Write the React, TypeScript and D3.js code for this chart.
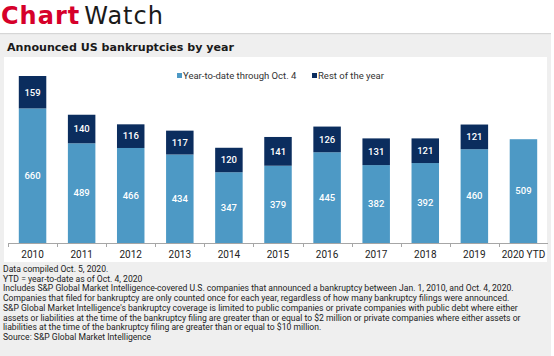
import React from 'react';
import * as d3 from 'd3';

const categories = ['2010', '2011', '2012', '2013', '2014', '2015', '2016', '2017', '2018', '2019', '2020 YTD'];
const ytdValues = [660, 489, 466, 434, 347, 379, 445, 382, 392, 460, 509];
const restValues = [159, 140, 116, 117, 120, 141, 126, 131, 121, 121, 0];
const seriesNames = ['Year-to-date through Oct. 4', 'Rest of the year'];
const footnotes = [
  'Data compiled Oct. 5, 2020.',
  'YTD = year-to-date as of Oct. 4, 2020',
  'Includes S&P Global Market Intelligence-covered U.S. companies that announced a bankruptcy between Jan. 1, 2010, and Oct. 4, 2020.',
  'Companies that filed for bankruptcy are only counted once for each year, regardless of how many bankruptcy filings were announced.',
  "S&P Global Market Intelligence's bankruptcy coverage is limited to public companies or private companies with public debt where either",
  'assets or liabilities at the time of the bankruptcy filing are greater than or equal to $2 million or private companies where either assets or',
  'liabilities at the time of the bankruptcy filing are greater than or equal to $10 million.',
  'Source: S&P Global Market Intelligence',
];

const LIGHT = '#4d99c5';
const DARK = '#0b2d5e';
const RED = '#d6002a';
const FONT = 'Roboto, "Liberation Sans", Arial, sans-serif';
const WIDE = '"DejaVu Sans", Verdana, sans-serif';

export default function App() {
  const W = 554;
  const H = 356;
  const axisY = 243;
  const x = d3.scaleBand<string>().domain(categories).range([8, 548]).padding(0);
  const y = d3.scaleLinear().domain([0, 819]).range([axisY, 76]);
  const bw = x.bandwidth() * 0.56;

  return (
    <svg
      width={W}
      height={H}
      style={{ position: 'absolute', left: 0, top: 0, fontFamily: FONT }}
    >
      <rect x={0} y={0} width={W} height={H} fill="#fff" />
      {/* Header */}
      <text x={1} y={24} fontSize={24} fontFamily={WIDE} letterSpacing={1}>
        <tspan fill={RED} fontWeight={700}>Chart</tspan>
        <tspan fill="#1a1a1a" dx={4}>Watch</tspan>
      </text>
      {/* Grey panel */}
      <rect x={0} y={33} width={551} height={H - 33} fill="#efefef" />
      <rect x={0} y={33} width={551} height={1.2} fill="#d6d6d6" />
      <text x={7} y={51} fontSize={11.1} fontWeight={700} fill="#1a1a1a" fontFamily={WIDE}>
        Announced US bankruptcies by year
      </text>
      {/* White chart area */}
      <rect x={4} y={57} width={543} height={205} fill="#fff" />

      {/* Legend */}
      <g fontSize={9.5} fill="#333">
        <rect x={177} y={73} width={5} height={5} fill={LIGHT} />
        <text x={183} y={79}>{seriesNames[0]}</text>
        <rect x={312} y={73} width={5} height={5} fill={DARK} />
        <text x={318} y={79}>{seriesNames[1]}</text>
      </g>

      {/* Bars */}
      {categories.map((c, i) => {
        const cx = (x(c) as number) + x.bandwidth() / 2;
        const y0 = y(0);
        const y1 = y(ytdValues[i]);
        const y2 = y(ytdValues[i] + restValues[i]);
        return (
          <g key={c}>
            <rect x={cx - bw / 2} y={y1} width={bw} height={y0 - y1} fill={LIGHT} />
            {restValues[i] > 0 && (
              <rect x={cx - bw / 2} y={y2} width={bw} height={y1 - y2} fill={DARK} />
            )}
            <text
              x={cx}
              y={(y0 + y1) / 2 + 3.3}
              textAnchor="middle"
              fontSize={9.5}
              fontWeight={500}
              fill="#fff"
            >
              {ytdValues[i]}
            </text>
            {restValues[i] > 0 && (
              <text
                x={cx}
                y={(y1 + y2) / 2 + 3.3}
                textAnchor="middle"
                fontSize={9.5}
                fontWeight={500}
                fill="#fff"
              >
                {restValues[i]}
              </text>
            )}
            <text x={cx} y={axisY + 14.5} textAnchor="middle" fontSize={10} fill="#222">
              {c}
            </text>
          </g>
        );
      })}

      {/* Axis */}
      <line x1={8} x2={548} y1={axisY + 0.5} y2={axisY + 0.5} stroke="#a6a6a6" strokeWidth={1} />
      {categories.map((c) => (
        <line
          key={'t' + c}
          x1={Math.round(x(c) as number) + 0.5}
          x2={Math.round(x(c) as number) + 0.5}
          y1={axisY}
          y2={axisY + 4}
          stroke="#a6a6a6"
        />
      ))}

      {/* Footnotes */}
      <g fontSize={8.6} fill="#222">
        {footnotes.map((t, i) => (
          <text key={i} x={3} y={272 + i * 9.7}>
            {t}
          </text>
        ))}
      </g>
    </svg>
  );
}
